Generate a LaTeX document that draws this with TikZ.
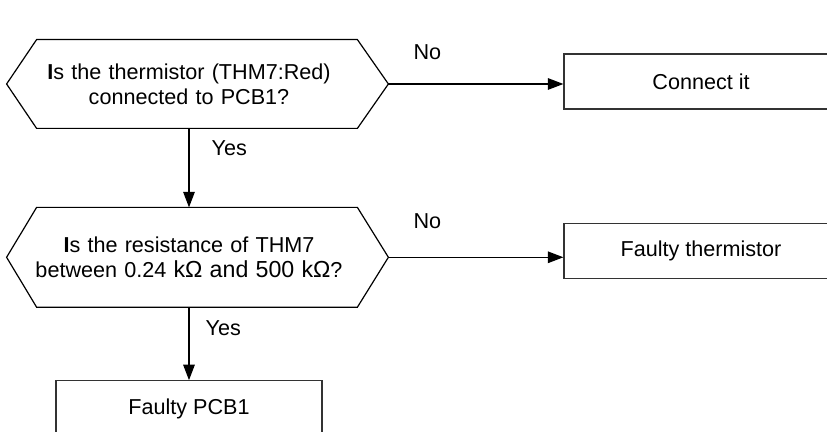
\documentclass[tikz,border=0pt]{standalone}
\usepackage{fontspec}
\setmainfont{Liberation Sans}
\usepackage{tikz}
\usetikzlibrary{arrows.meta, positioning}

\begin{document}
\begin{tikzpicture}[
  node distance=39.5pt and 87.5pt,
  every node/.style={font=\fontsize{10.8pt}{12.6pt}\selectfont},
  decision/.style={rectangle, text width=152pt, minimum height=#1, inner sep=0pt, align=center},
  hexline/.style={draw=black, line width=0.6pt, line join=miter},
  action/.style={rectangle, draw=black!80, line width=0.65pt, fill=white,
    minimum width=137pt, minimum height=27.5pt, inner sep=0pt},
  arr/.style={-{Triangle[length=7.8pt, width=5.8pt]}, line width=0.6pt},
  lbl/.style={inner sep=0pt}
]
\useasboundingbox (0,0) rectangle (413.5pt,216pt);

% ---- QUESTION 1 ----
\node[decision=44pt] (q1) at (94.5pt,174pt) {\textbf{I}s the thermistor (THM7:Red)\\connected to PCB1?};
\draw[hexline] ([xshift=-15pt]q1.west) -- (q1.north west) -- ([xshift=8pt]q1.north east)
  -- ([xshift=23.5pt]q1.east) -- ([xshift=8pt]q1.south east) -- (q1.south west) -- cycle;
\coordinate (q1tip) at ([xshift=23.5pt]q1.east);
\node[action, right=of q1tip, yshift=1.25pt] (conn) {Connect it};
\draw[arr] (q1tip) -- node[lbl, pos=0.223, above=12pt] {No} (q1tip -| conn.west);

% ---- QUESTION 2 ----
\node[decision=49.5pt, below=of q1] (q2) {\textbf{I}s the resistance of THM7\\\makebox[\linewidth]{between 0.24 {\fontsize{11.6pt}{12.6pt}\selectfont kΩ and 500 kΩ}?}};
\draw[hexline] ([xshift=-15pt]q2.west) -- (q2.north west) -- ([xshift=8pt]q2.north east)
  -- ([xshift=23.5pt]q2.east) -- ([xshift=8pt]q2.south east) -- (q2.south west) -- cycle;
\coordinate (q2tip) at ([xshift=23.5pt]q2.east);
\node[action, right=of q2tip, yshift=3.25pt] (fault) {Faulty thermistor};
\draw[arr] (q2tip) -- node[lbl, pos=0.223, above=14pt] {No} (q2tip -| fault.west);
\draw[arr] (q1) -- node[lbl, pos=0.25, right=11pt] {Yes} (q2);

% ---- RESULT ----
\node[action, minimum width=133pt, minimum height=28pt, below=36.5pt of q2] (pcb) {Faulty PCB1};
\draw[arr] (q2) -- node[lbl, pos=0.29, right=8pt] {Yes} (pcb);
\end{tikzpicture}
\end{document}
